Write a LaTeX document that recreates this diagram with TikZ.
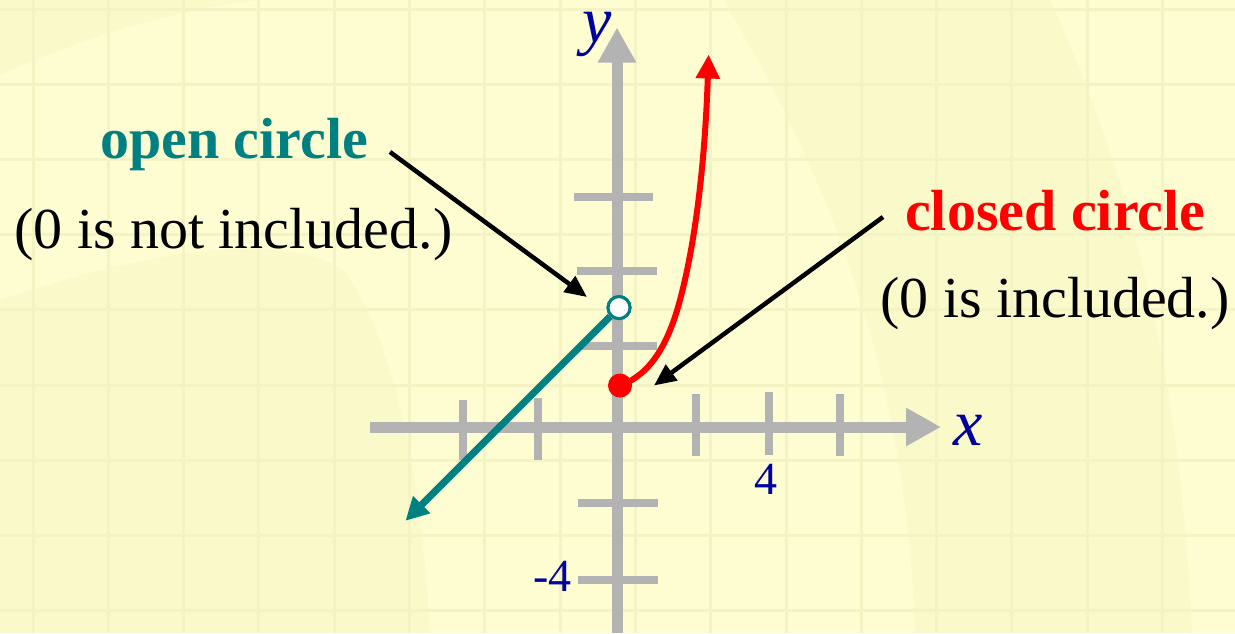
\documentclass[tikz,border=0pt]{standalone}
\usepackage{fontspec}
\setmainfont{Liberation Serif}
\usetikzlibrary{arrows.meta}
\definecolor{bgbase}{RGB}{249,249,202}
\definecolor{bglight}{RGB}{253,253,209}
\definecolor{gridc}{RGB}{243,243,195}
\definecolor{axisgray}{RGB}{179,179,179}
\definecolor{tealc}{RGB}{0,128,128}
\definecolor{navyc}{RGB}{0,0,160}
\newcommand\lblfont{\fontsize{58}{66}\selectfont}
\newcommand\numfont{\fontsize{46}{52}\selectfont}
\newcommand\varfont{\fontsize{66}{72}\selectfont\itshape}
\begin{document}
\begin{tikzpicture}[x=1pt,y=-1pt,
  gridline/.style={gridc,line width=3pt},
  axisline/.style={axisgray,line width=11pt,-{Triangle[length=35pt,width=36pt]}},
  tickline/.style={axisgray,line width=8pt},
  lbl/.style={inner sep=0pt,font=\lblfont},
  numlbl/.style={inner sep=0pt,font=\numfont,text=navyc},
  varlbl/.style={inner sep=0pt,font=\varfont,text=navyc},
  pointer/.style={black,line width=4.5pt,-{Triangle[length=22pt,width=19pt]}},
  tealarrow/.style={tealc,line width=7pt,-{Triangle[length=23pt,width=23pt]}},
  redcurve/.style={red,line width=6pt,-{Triangle[length=24pt,width=23pt]}},
  opendot/.style={circle,draw=tealc,line width=3pt,fill=white,minimum size=22pt,inner sep=0pt},
  closeddot/.style={circle,fill=red,minimum size=24pt,inner sep=0pt}]
\useasboundingbox (0,0) rectangle (1235,633);
% background
\fill[bgbase] (0,0) rectangle (1235,633);
\fill[bglight] (0,75) .. controls (90,35) and (180,8) .. (260,0) -- (723,0)
  .. controls (800,130) and (905,330) .. (915,633) -- (430,633)
  .. controls (420,450) and (390,340) .. (345,270)
  .. controls (280,230) and (150,250) .. (0,300) -- cycle;
\fill[bglight] (1050,0) .. controls (1120,150) and (1180,350) .. (1192,633) -- (1235,633) -- (1235,0) -- cycle;
\foreach \i in {0,...,15} \draw[gridline] ({33+75.3*\i},0) -- ({33+75.3*\i},633);
\foreach \j in {0,...,8} \draw[gridline] (0,{9+75.2*\j}) -- (1235,{9+75.2*\j});
% axes
\coordinate (xstart) at (370,427);
\coordinate (xend) at (941,427);
\coordinate (ystart) at (617,633);
\coordinate (yend) at (617,27.5);
\draw[axisline] (xstart) -- (xend);
\draw[axisline] (ystart) -- (yend);
% x ticks
\draw[tickline] (463,400) -- (463,460);
\draw[tickline] (537.5,398) -- (537.5,460);
\draw[tickline] (696,394) -- (696,456);
\draw[tickline] (769,392) -- (769,455);
\draw[tickline] (840,394) -- (840,456);
% y ticks
\draw[tickline] (574,196.6) -- (653,196.6);
\draw[tickline] (577,271.3) -- (657,271.3);
\draw[tickline] (580,346.4) -- (657,346.4);
\draw[tickline] (578,502.6) -- (658,502.6);
\draw[tickline] (578,580) -- (658,580);
% axis labels
\node[varlbl,anchor=base west] (xlab) at (953,445) {x};
\node[varlbl,anchor=base west] (ylab) at (582,42) {y};
\node[numlbl,anchor=base] (four) at (766,494) {4};
\node[numlbl,anchor=base east] (mfour) at (572,591) {-4};
% teal ray with open circle
\node[opendot] (oc) at (619,307.6) {};
\coordinate (tealtip) at (405.5,520.8);
\draw[tealarrow] (oc) -- (tealtip);
\node[opendot] at (oc) {};
% red curve with closed circle
\node[closeddot] (cd) at (620,385.5) {};
\coordinate (redtip) at (708.6,54.5);
\draw[redcurve] (cd.center) .. controls (650,375) and (668,345) .. (680,300)
  .. controls (696,240) and (705,160) .. (redtip);
% labels
\node[lbl,anchor=base west,text=tealc,font=\lblfont\bfseries] (openlbl) at (100,158) {open circle};
\node[lbl,anchor=base west] (opennote) at (14,248) {(0 is not included.)};
\node[lbl,anchor=base west,text=red,font=\lblfont\bfseries] (closedlbl) at (905,230) {closed circle};
\node[lbl,anchor=base west] (closednote) at (880,317) {(0 is included.)};
% pointers
\coordinate (p1s) at (390,152);
\coordinate (p1t) at (587,297);
\coordinate (p2s) at (883,217);
\coordinate (p2t) at (654,385.5);
\draw[pointer] (p1s) -- (p1t);
\draw[pointer] (p2s) -- (p2t);
\end{tikzpicture}
\end{document}
